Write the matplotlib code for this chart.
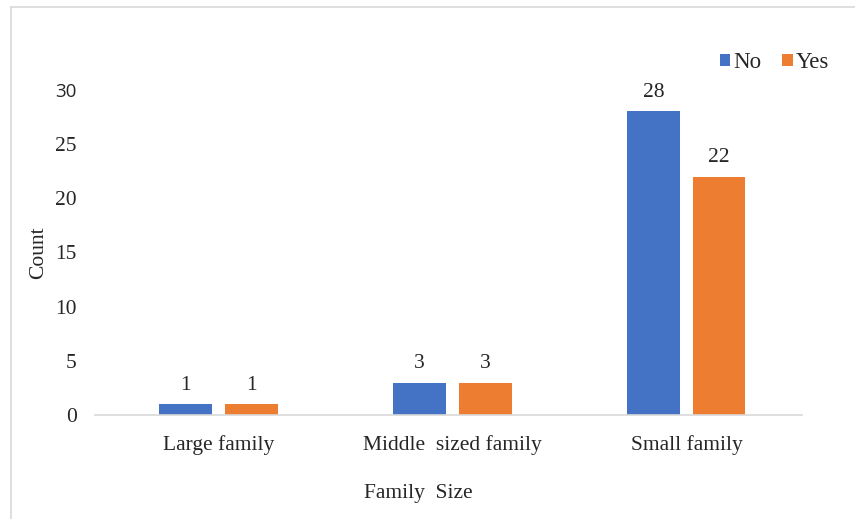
import numpy as np
import matplotlib.pyplot as plt
from matplotlib.lines import Line2D

categorias = ["Large family", "Middle  sized family", "Small family"]
valores_no = [1, 3, 28]
valores_si = [1, 3, 22]

plt.rcParams['font.family'] = ['Liberation Serif', 'DejaVu Serif']
texto = '#262626'
fs = 15.5

fig = plt.figure(figsize=(8.55, 5.19), dpi=100)
ax = fig.add_axes([0.111, 0.200, 0.827, 0.627])

x = np.arange(len(categorias))
ancho = 0.225
b1 = ax.bar(x - 0.14, valores_no, ancho, color='#4472C4', label='No')
b2 = ax.bar(x + 0.14, valores_si, ancho, color='#ED7D31', label='Yes')

for barras in (b1, b2):
    for b in barras:
        ax.text(b.get_x() + b.get_width() / 2, b.get_height() + 0.9, str(int(b.get_height())),
                ha='center', va='bottom', fontsize=fs, color=texto)

ax.set_xlim(-0.528, 2.494)
ax.set_ylim(0, 30)
ax.set_yticks(range(0, 31, 5))
ax.set_xticks(x)
ax.set_xticklabels(categorias)
ax.tick_params(axis='both', length=0, labelsize=fs, colors=texto)
ax.tick_params(axis='x', pad=14)
ax.tick_params(axis='y', pad=13)
# el "30" del original sale en otra fuente (sans)
ax.get_yticklabels()[-1].set_fontfamily(['Open Sans', 'DejaVu Sans'])
ax.get_yticklabels()[-1].set_fontsize(fs - 2)

for s in ['top', 'right', 'left']:
    ax.spines[s].set_visible(False)
ax.spines['bottom'].set_color('#D9D9D9')
ax.spines['bottom'].set_linewidth(1.2)

ax.set_xlabel("Family  Size", fontsize=fs, color=texto)
ax.xaxis.set_label_coords(0.458, -0.21)
ax.set_ylabel("Count", fontsize=fs, color=texto)
ax.yaxis.set_label_coords(-0.066, 0.5)

ax.legend(loc='upper right', bbox_to_anchor=(1.068, 1.18), ncol=2, frameon=False,
          fontsize=16.5, handlelength=0.45, handleheight=0.45, handletextpad=0.15, columnspacing=0.9,
          labelcolor=texto)

# borde superior e izquierdo del cuadro
fig.lines.append(Line2D([0.013, 0.013], [0, 0.987], transform=fig.transFigure, color='#D9D9D9', lw=1.2))
fig.lines.append(Line2D([0.013, 1], [0.987, 0.987], transform=fig.transFigure, color='#D9D9D9', lw=1.2))

plt.savefig("out.png", dpi=100)
plt.close()
